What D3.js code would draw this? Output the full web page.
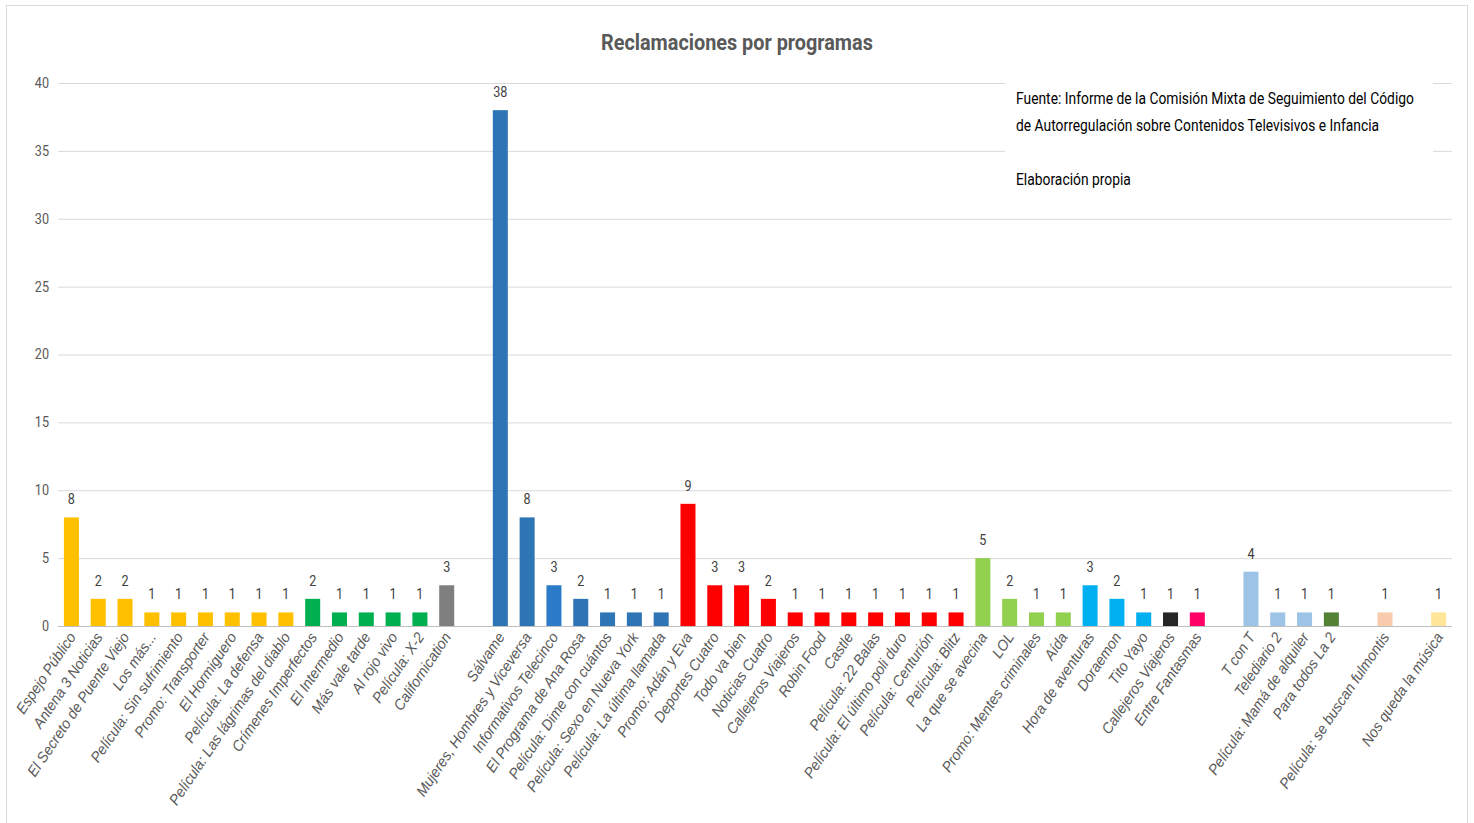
<!DOCTYPE html>
<html>
<head>
<meta charset="utf-8">
<script src="https://cdn.jsdelivr.net/npm/d3@7"></script>
<style>
  body { margin: 0; background: #fff; }
  svg text { font-family: Roboto, "Liberation Sans", sans-serif; }
</style>
</head>
<body>
<div id="chart"></div>
<script>
// programmes in plot order; "" marks an empty slot between channel groups
const programas = [
  "Espejo Público", "Antena 3 Noticias", "El Secreto de Puente Viejo", "Los más...",
  "Película: Sin sufrimiento", "Promo: Transporter", "El Hormiguero", "Película: La defensa",
  "Película: Las lágrimas del diablo", "Crímenes Imperfectos", "El Intermedio", "Más vale tarde",
  "Al rojo vivo", "Película: X-2", "Californication", "",
  "Sálvame", "Mujeres, Hombres y Viceversa", "Informativos Telecinco", "El Programa de Ana Rosa",
  "Película: Dime con cuántos", "Película: Sexo en Nueva York", "Película: La última  llamada",
  "Promo: Adán y Eva", "Deportes Cuatro", "Todo va bien", "Noticias Cuatro", "Callejeros Viajeros",
  "Robin Food", "Castle", "Película: 22 Balas", "Película: El último poli duro",
  "Película: Centurión", "Película: Blitz", "La que se avecina", "LOL",
  "Promo: Mentes criminales", "Aída", "Hora de aventuras", "Doraemon", "Tito Yayo",
  "Callejeros Viajeros ", "Entre Fantasmas", "",
  "T con T", "Telediario 2", "Película: Mamá de alquiler", "Para todos La 2", "",
  "Película: se buscan fulmontis", "", "Nos queda la música"
];
const reclamaciones = [
  8, 2, 2, 1, 1, 1, 1, 1, 1, 2, 1, 1, 1, 1, 3, null,
  38, 8, 3, 2, 1, 1, 1,
  9, 3, 3, 2, 1, 1, 1, 1, 1, 1, 1, 5, 2, 1, 1, 3, 2, 1, 1, 1, null,
  4, 1, 1, 1, null, 1, null, 1
];
// channel group of each slot (index into palette)
const grupo = [
  0, 0, 0, 0, 0, 0, 0, 0, 0, 1, 1, 1, 1, 1, 2, -1,
  3, 3, 4, 3, 3, 3, 3,
  5, 5, 5, 5, 5, 5, 5, 5, 5, 5, 5, 6, 6, 6, 6, 7, 7, 7, 8, 9, -1,
  10, 10, 10, 11, -1, 12, -1, 13
];
const yTicks = [0, 5, 10, 15, 20, 25, 30, 35, 40];
const titulo = "Reclamaciones por programas";
const nota = [
  "Fuente: Informe de la Comisión  Mixta de Seguimiento del Código",
  "de Autorregulación sobre Contenidos Televisivos  e Infancia",
  "",
  "Elaboración propia"
];

const palette = ["#FFC000", "#00B050", "#7F7F7F", "#2E75B6", "#2C7BC8", "#FF0000", "#92D050",
  "#00B0F0", "#262626", "#FF0066", "#9DC3E6", "#548235", "#F8CBAD", "#FFE699"];

const W = 1474, H = 823;
const margin = {top: 83, right: 22, bottom: 197, left: 58};

const svg = d3.select("#chart").append("svg")
  .attr("width", W).attr("height", H);

svg.append("rect")
  .attr("x", 6.5).attr("y", 5.5).attr("width", 1461).attr("height", 830)
  .attr("fill", "#fff").attr("stroke", "#d9d9d9");

const data = programas.map((p, i) => ({key: i, name: p, value: reclamaciones[i], g: grupo[i]}));

const x = d3.scaleBand()
  .domain(data.map(d => d.key))
  .range([margin.left, W - margin.right])
  .paddingInner(0.44).paddingOuter(0.22);

const y = d3.scaleLinear()
  .domain([0, 40])
  .range([H - margin.bottom, margin.top]);

// gridlines + y labels
const yAxis = svg.append("g")
  .attr("transform", `translate(${margin.left},0)`)
  .call(d3.axisLeft(y).tickValues(yTicks).tickSize(-(W - margin.left - margin.right)).tickPadding(10));
yAxis.select(".domain").remove();
yAxis.selectAll(".tick line").attr("stroke", d => d === 0 ? "#bfbfbf" : "#d9d9d9");
yAxis.selectAll(".tick text")
  .attr("fill", "#595959").attr("font-size", 14)
  .attr("transform", "scale(0.9,1)");

// bars
svg.append("g").selectAll("rect")
  .data(data.filter(d => d.value != null))
  .join("rect")
  .attr("x", d => x(d.key))
  .attr("y", d => y(d.value))
  .attr("width", x.bandwidth())
  .attr("height", d => y(0) - y(d.value))
  .attr("fill", d => palette[d.g]);

// value labels
svg.append("g").selectAll("text")
  .data(data.filter(d => d.value != null))
  .join("text")
  .attr("transform", d => `translate(${x(d.key) + x.bandwidth() / 2},${y(d.value) - 13}) scale(0.9,1)`)
  .attr("text-anchor", "middle")
  .attr("fill", "#404040")
  .attr("font-size", 14)
  .text(d => d.value);

// category labels
svg.append("g").selectAll("text")
  .data(data.filter(d => d.name !== ""))
  .join("text")
  .attr("transform", d => `translate(${x(d.key) + x.bandwidth() / 2 + 5},${y(0) + 11}) rotate(-56) scale(0.95,1)`)
  .attr("text-anchor", "end")
  .style("font-family", "'Liberation Sans', sans-serif")
  .attr("font-style", "italic")
  .attr("fill", "#595959")
  .attr("font-size", 15)
  .text(d => d.name);

// squeeze a text horizontally so it spans the given width
function fit(sel, width) {
  const len = sel.node().getComputedTextLength();
  const x0 = +sel.attr("x");
  sel.attr("transform", `translate(${x0},0) scale(${width / len},1) translate(${-x0},0)`);
}

// title
svg.append("text")
  .attr("x", 601).attr("y", 50)
  .attr("font-size", 23).attr("font-weight", "bold")
  .attr("fill", "#595959")
  .text(titulo)
  .call(fit, 272);

// source note box
const box = svg.append("g").attr("transform", "translate(1005,76)");
box.append("rect").attr("width", 428).attr("height", 124).attr("fill", "#fff");
const noteText = box.append("g");
noteText.selectAll("text")
  .data(nota)
  .join("text")
  .attr("x", 11)
  .attr("y", (d, i) => 28 + i * 27)
  .attr("font-size", 17)
  .attr("fill", "#000")
  .text(d => d);
const firstLen = noteText.select("text").node().getComputedTextLength();
noteText.attr("transform", `translate(11,0) scale(${398 / firstLen},1) translate(-11,0)`);
</script>
</body>
</html>
